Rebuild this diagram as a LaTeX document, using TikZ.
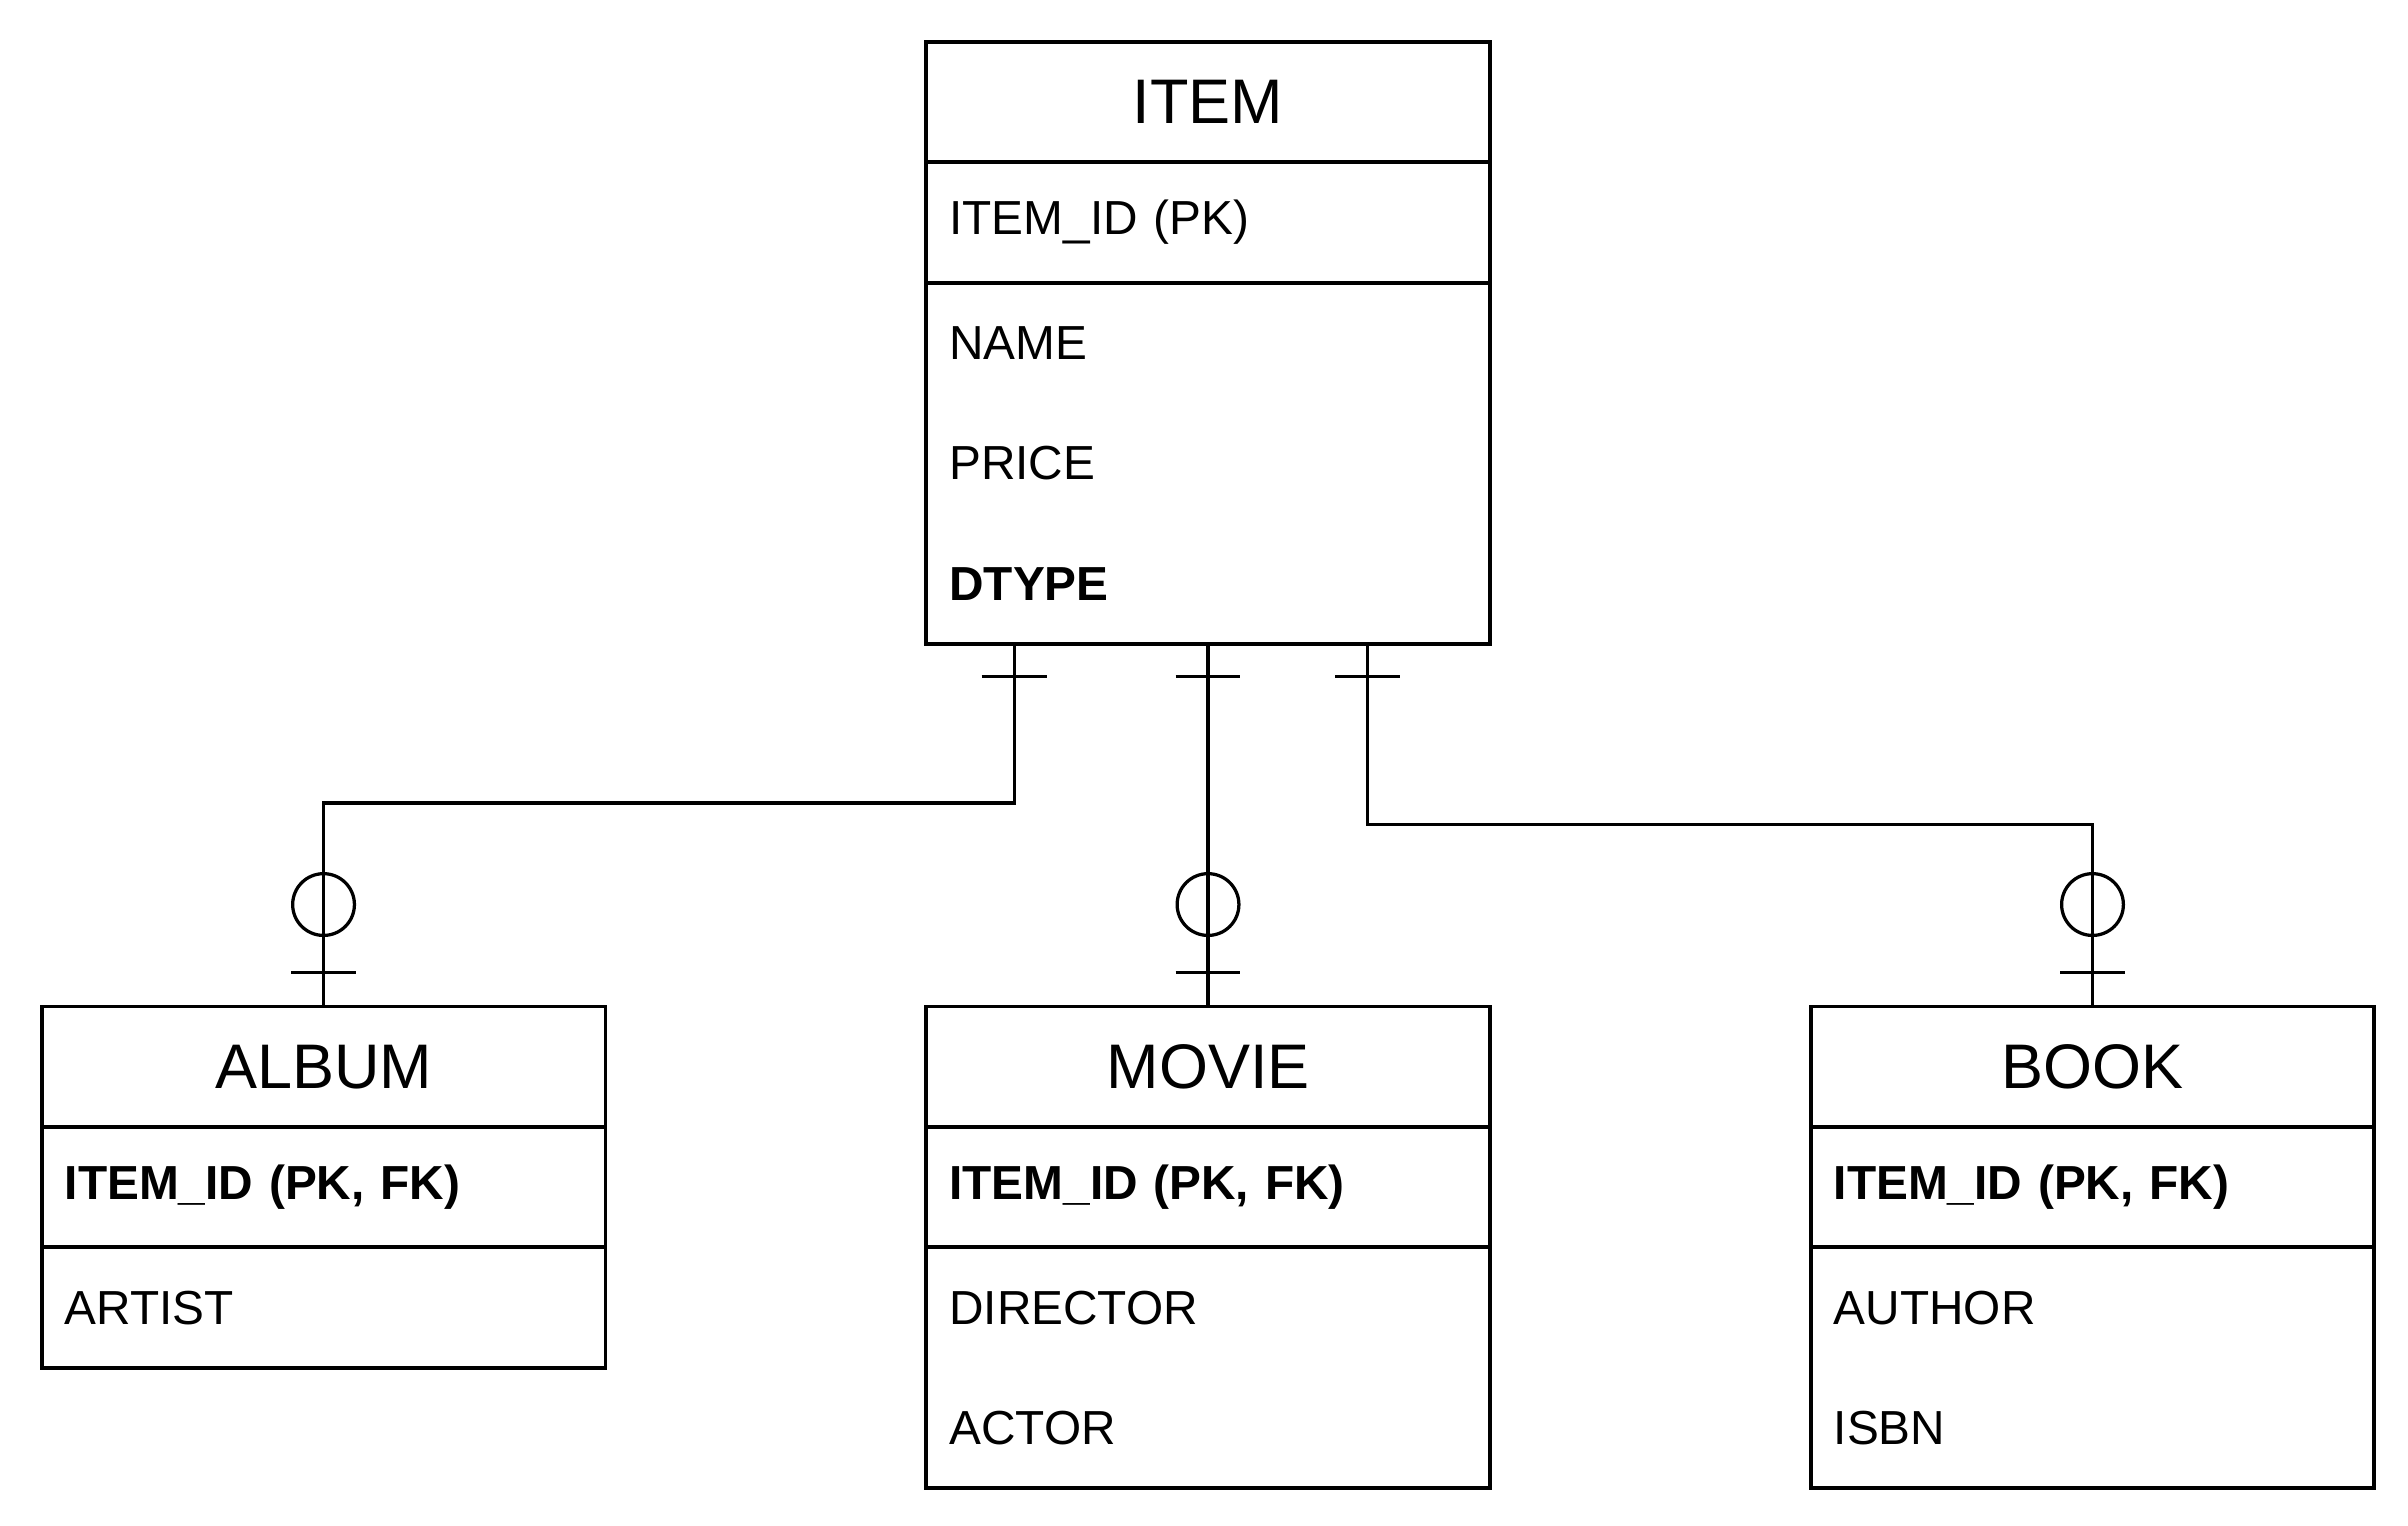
\documentclass[tikz,border=0pt]{standalone}
\usepackage{fontspec}
\setmainfont{Liberation Sans}
\usetikzlibrary{positioning,fit,calc}

\newcommand{\onemark}[1]{\draw[link] ($(#1)+(-21,21)$) -- ++(42,0);}
\newcommand{\zeromark}[1]{%
  \draw[link] ($(#1)+(0,-66)$) circle[radius=0.2cm];
  \draw[link] ($(#1)+(-21,-22)$) -- ++(42,0);}

\begin{document}
\begin{tikzpicture}
[x=0.01cm,y=-0.01cm,
title/.style={rectangle,draw=black,line width=0.7pt,outer sep=0pt,inner sep=0pt,minimum width=3.65cm,minimum height=0.78cm,font=\fontsize{11.6}{14}\selectfont},
field/.style={rectangle,outer sep=0pt,inner xsep=0.15cm,inner ysep=0pt,text width=3.35cm,align=left,minimum height=0.78cm,font=\fontsize{8.8}{11}\selectfont},
key/.style={field,draw=black,line width=0.7pt},
frame/.style={rectangle,draw=black,line width=0.7pt,inner sep=0pt,outer sep=0pt},
link/.style={draw=black,line width=0.6pt}]
\useasboundingbox (0,0) rectangle (1560,988);
% ITEM
\node[title,anchor=north west] (item) at (600,27) {ITEM};
\node[key] (item-id) [below=0pt of item] {ITEM\_ID (PK)};
\node[field] (item-name) [below=0pt of item-id] {NAME};
\node[field] (item-price) [below=0pt of item-name] {PRICE};
\node[field] (item-dtype) [below=0pt of item-price] {\textbf{DTYPE}};
\node[frame,fit=(item)(item-dtype)] (item-box) {};
% ALBUM
\node[title,anchor=north west] (album) at (27,652) {ALBUM};
\node[key] (album-id) [below=0pt of album] {\textbf{ITEM\_ID (PK, FK)}};
\node[field] (album-artist) [below=0pt of album-id] {ARTIST};
\node[frame,fit=(album)(album-artist)] (album-box) {};
% MOVIE
\node[title,anchor=north west] (movie) at (600,652) {MOVIE};
\node[key] (movie-id) [below=0pt of movie] {\textbf{ITEM\_ID (PK, FK)}};
\node[field] (movie-director) [below=0pt of movie-id] {DIRECTOR};
\node[field] (movie-actor) [below=0pt of movie-director] {ACTOR};
\node[frame,fit=(movie)(movie-actor)] (movie-box) {};
% BOOK
\node[title,anchor=north west] (book) at (1173,652) {BOOK};
\node[key] (book-id) [below=0pt of book] {\textbf{ITEM\_ID (PK, FK)}};
\node[field] (book-author) [below=0pt of book-id] {AUTHOR};
\node[field] (book-isbn) [below=0pt of book-author] {ISBN};
\node[frame,fit=(book)(book-isbn)] (book-box) {};
% relations
\coordinate (ia) at ($(item-box.south west)+(57,0)$);
\coordinate (im) at (item-box.south);
\coordinate (ib) at ($(item-box.south west)+(286,0)$);
\draw[link] (ia) -- ++(0,103) -| (album.north);
\draw[link] (im) -- (movie.north);
\draw[link] (ib) -- ++(0,117) -| (book.north);
\onemark{ia} \onemark{im} \onemark{ib}
\zeromark{album.north} \zeromark{movie.north} \zeromark{book.north}
\end{tikzpicture}
\end{document}
